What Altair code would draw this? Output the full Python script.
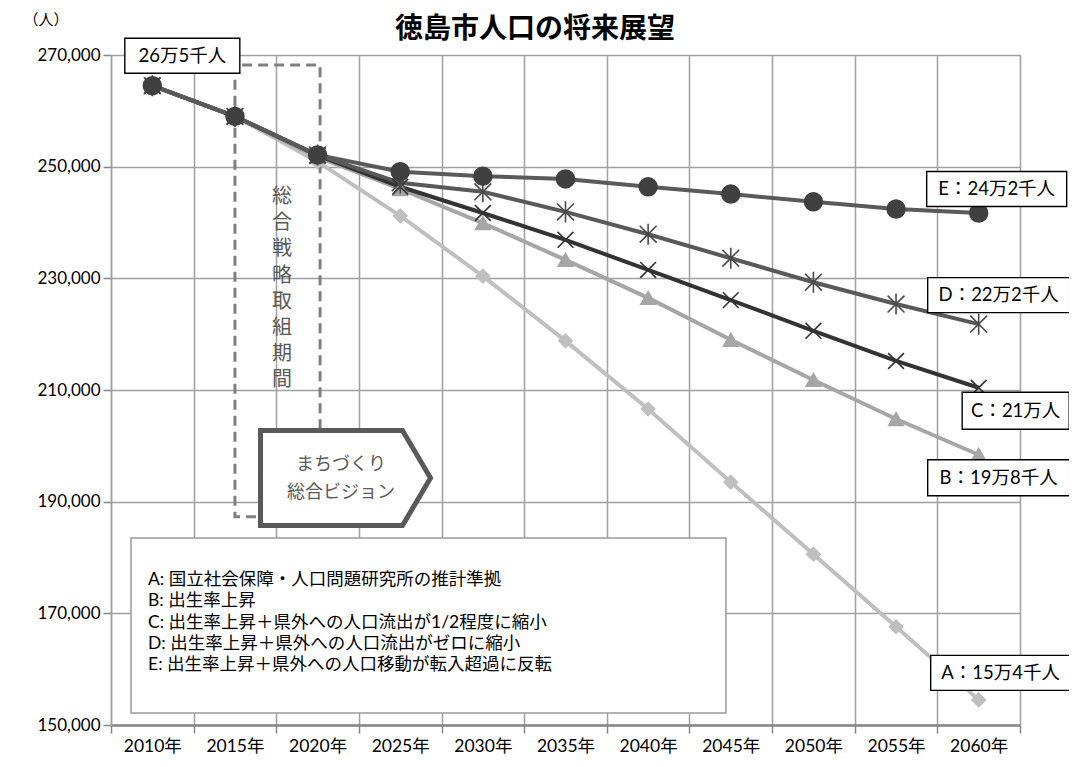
import altair as alt
import pandas as pd

# ---------------- data ----------------
years = [2010, 2015, 2020, 2025, 2030, 2035, 2040, 2045, 2050, 2055, 2060]
pop_a = [264500, 259000, 250900, 241200, 230400, 218800, 206600, 193500, 180600, 167600, 154500]
pop_b = [264500, 259000, 251700, 246000, 239900, 233300, 226500, 219000, 211800, 204800, 198400]
pop_c = [264500, 259000, 252000, 246400, 241700, 236900, 231500, 226100, 220600, 215200, 210400]
pop_d = [264500, 259000, 252100, 247100, 245500, 241900, 237900, 233600, 229300, 225400, 221800]
pop_e = [264500, 259000, 252100, 249100, 248300, 247800, 246400, 245100, 243700, 242400, 241700]
series_keys = ["A", "B", "C", "D", "E"]

legend_lines = [
    "A: 国立社会保障・人口問題研究所の推計準拠",
    "B: 出生率上昇",
    "C: 出生率上昇＋県外への人口流出が1/2程度に縮小",
    "D: 出生率上昇＋県外への人口流出がゼロに縮小",
    "E: 出生率上昇＋県外への人口移動が転入超過に反転",
]
end_labels = ["A：15万4千人", "B：19万8千人", "C：21万人", "D：22万2千人", "E：24万2千人"]
start_label = "26万5千人"
title_text = "徳島市人口の将来展望"
unit_text = "（人）"
period_text = "総合戦略取組期間"
vision_lines = ["まちづくり", "総合ビジョン"]
y_ticks = [150000, 170000, 190000, 210000, 230000, 250000, 270000]
x_bounds = [2007.5 + 5 * i for i in range(12)]

# annotation anchors (data units)
period_box_years = [2020.15, 2015.0, 2015.0, 2020.15, 2020.15]
period_box_values = [187300, 187300, 268200, 268200, 187300]
period_text_pos = (2017.85, 244570)
vision_pos = (2021.69, 194240)
vision_text_pos = (2021.42, 196570)
legend_box = (2008.71, 2044.71, 152150, 183500)
legend_text_pos = (2009.74, 175970)
unit_pos = (2003.57, 276270)
title_pos = (2033.15, 274480)

# ---------------- style ----------------
JP = "Noto Sans CJK JP"
NUM = "Lato, 'Noto Sans CJK JP'"
line_colors = ["#bfbfbf", "#a6a6a6", "#333333", "#595959", "#5a5a5a"]
marker_colors = ["#bfbfbf", "#a6a6a6", "#333333", "#4a4a4a", "#404040"]
X_PATH = "M-1,-1L1,1M-1,1L1,-1"
AST_PATH = "M-1,-1L1,1M-1,1L1,-1M0,-1.25L0,1.25"
marker_shapes = ["diamond", "triangle-up", X_PATH, AST_PATH, "circle"]
marker_sizes = [180, 320, 200, 230, 260]
GRID = "#a0a0a0"

label_style = [  # dx, dy, w, h for A..E
    (22, -27, 140, 35),
    (20, 23, 142, 36),
    (37, 23, 107, 37),
    (20, -29, 142, 35),
    (18, -24, 140, 35),
]
start_style = (30, -30, 115, 35)


def box_path(w, h):
    r = h / w
    return f"M-1,{-r:.4f}L1,{-r:.4f}L1,{r:.4f}L-1,{r:.4f}Z"


PENTA = "M-1,-0.559L0.67,-0.559L1,0L0.67,0.559L-1,0.559Z"

# ---------------- build ----------------
rows = []
for key, vals in zip(series_keys, [pop_a, pop_b, pop_c, pop_d, pop_e]):
    for y, v in zip(years, vals):
        rows.append({"series": key, "year": y, "value": v})
df = pd.DataFrame(rows)

x_scale = alt.Scale(domain=[2007.5, 2062.5], nice=False, zero=False)
y_scale = alt.Scale(domain=[150000, 270000], nice=False, zero=False)
x_axis = alt.Axis(
    values=x_bounds,
    labelExpr="datum.value < 2060 ? (datum.value + 2.5) + '年' : ''",
    labelOffset=41.3, labelOverlap=False, labelBound=False, labelFlush=False,
    grid=True, gridColor=GRID, gridWidth=1.5,
    tickSize=8, tickColor="#868686", tickWidth=1.5,
    domainColor="#868686", domainWidth=2.5,
    labelFont=NUM, labelFontSize=17.5, labelColor="#000000", labelPadding=4,
    title=None,
)
y_axis = alt.Axis(
    values=y_ticks, labelExpr="format(datum.value, ',')",
    grid=True, gridColor=GRID, gridWidth=1.5,
    tickSize=8, tickColor="#868686", tickWidth=1.5,
    domainColor=GRID, domainWidth=1.5,
    labelFont=NUM, labelFontSize=17, labelColor="#000000", labelPadding=3,
    title=None,
)
X = alt.X("year:Q", scale=x_scale, axis=x_axis)
Y = alt.Y("value:Q", scale=y_scale, axis=y_axis)

layers = []

# legend box + text
lb = pd.DataFrame({"year": [legend_box[0]], "year2": [legend_box[1]],
                   "value": [legend_box[2]], "value2": [legend_box[3]]})
layers.append(alt.Chart(lb).mark_rect(fill="white", stroke="#9a9a9a", strokeWidth=1.5).encode(
    x=X, x2="year2:Q", y=Y, y2="value2:Q"))
lt = pd.DataFrame({"year": [legend_text_pos[0]], "value": [legend_text_pos[1]],
                   "text": ["\n".join(legend_lines)]})
layers.append(alt.Chart(lt).mark_text(align="left", baseline="middle", lineBreak="\n",
                                      lineHeight=21.3, font=NUM, fontSize=17.5,
                                      color="#000000").encode(x=X, y=Y, text="text:N"))

# dashed strategy period box
pb = pd.DataFrame({"year": period_box_years, "value": period_box_values,
                   "ord": list(range(len(period_box_years)))})
layers.append(alt.Chart(pb).mark_line(strokeDash=[10, 6], strokeWidth=3, color="#808080").encode(
    x=X, y=Y, order="ord:Q"))
pt = pd.DataFrame({"year": [period_text_pos[0]], "value": [period_text_pos[1]],
                   "text": ["\n".join(period_text)]})
layers.append(alt.Chart(pt).mark_text(align="center", baseline="middle", lineBreak="\n",
                                      lineHeight=26.2, font=JP, fontSize=20,
                                      color="#595959").encode(x=X, y=Y, text="text:N"))

# vision pentagon + text
vp = pd.DataFrame({"year": [vision_pos[0]], "value": [vision_pos[1]]})
layers.append(alt.Chart(vp).mark_point(shape=PENTA, size=170 * 170, filled=True, fill="white",
                                       stroke="#595959", strokeWidth=5, opacity=1).encode(x=X, y=Y))
vt = pd.DataFrame({"year": [vision_text_pos[0]], "value": [vision_text_pos[1]],
                   "text": ["\n".join(vision_lines)]})
layers.append(alt.Chart(vt).mark_text(align="center", baseline="middle", lineBreak="\n",
                                      lineHeight=28, font=JP, fontSize=18,
                                      color="#595959").encode(x=X, y=Y, text="text:N"))

# unit label and title
ut = pd.DataFrame({"year": [unit_pos[0]], "value": [unit_pos[1]], "text": [unit_text]})
layers.append(alt.Chart(ut).mark_text(align="center", baseline="middle", font=JP, fontSize=15,
                                      color="#000000").encode(x=X, y=Y, text="text:N"))
tt = pd.DataFrame({"year": [title_pos[0]], "value": [title_pos[1]], "text": [title_text]})
layers.append(alt.Chart(tt).mark_text(align="center", baseline="middle", font=JP, fontSize=28,
                                      fontWeight="bold", color="#000000").encode(
    x=X, y=Y, text="text:N"))

# series lines and markers
layers.append(alt.Chart(df).mark_line(strokeWidth=4).encode(
    x=X, y=Y,
    color=alt.Color("series:N", scale=alt.Scale(domain=series_keys, range=line_colors), legend=None)))
layers.append(alt.Chart(df).mark_point(opacity=1, strokeWidth=1.6).encode(
    x=X, y=Y,
    shape=alt.Shape("series:N", scale=alt.Scale(domain=series_keys, range=marker_shapes), legend=None),
    fill=alt.Fill("series:N", scale=alt.Scale(domain=series_keys, range=marker_colors), legend=None),
    stroke=alt.Stroke("series:N", scale=alt.Scale(domain=series_keys, range=marker_colors), legend=None),
    size=alt.Size("series:O", scale=alt.Scale(domain=series_keys, range=marker_sizes), legend=None)))


def label_layers(year, value, text, style):
    dx, dy, w, h = style
    d = pd.DataFrame({"year": [year], "value": [value], "text": [text]})
    box = alt.Chart(d).mark_point(shape=box_path(w, h), size=w * w, filled=True, fill="white",
                                  stroke="#000000", strokeWidth=1.4, opacity=1,
                                  xOffset=dx, yOffset=dy).encode(x=X, y=Y)
    txt = alt.Chart(d).mark_text(align="center", baseline="middle", font=NUM, fontSize=18.5,
                                 color="#000000", dx=dx, dy=dy).encode(x=X, y=Y, text="text:N")
    return [box, txt]


all_series = [pop_a, pop_b, pop_c, pop_d, pop_e]
for i, key in enumerate(series_keys):
    layers += label_layers(years[-1], all_series[i][-1], end_labels[i], label_style[i])
layers += label_layers(years[0], pop_a[0], start_label, start_style)

chart = alt.layer(*layers).properties(
    width=909, height=670,
    padding={"left": 103, "top": 47, "right": 49, "bottom": 34},
    autosize=alt.AutoSizeParams(type="none"),
).configure_view(stroke=None).configure(background="white")

chart.save("out.html", embed_options={"renderer": "svg", "actions": False})
